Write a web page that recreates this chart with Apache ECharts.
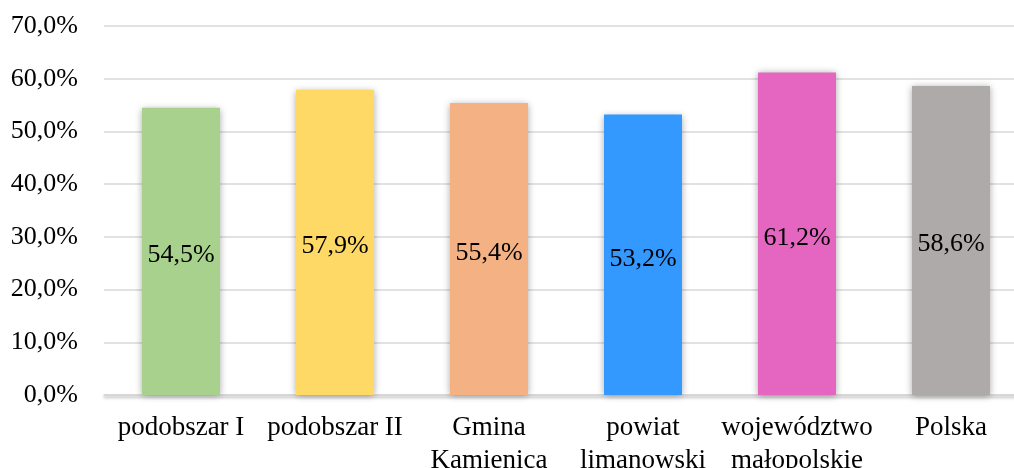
<!DOCTYPE html>
<html>
	<head>
		<meta charset="utf-8">
		<title></title>
		<style type="text/css">
			html, body { margin: 0; padding: 0; background: #fff; }
			#main{
				width: 1014px;
				height: 468px;
			}
		</style>
	</head>
	<body>
		<div id="main"></div>
	</body>
<script src="https://cdn.jsdelivr.net/npm/echarts@6/dist/echarts.min.js" type="text/javascript" charset="utf-8"></script>
<script type="text/javascript">
	// dane z wykresu
	var categories = ['podobszar I', 'podobszar II', 'Gmina\nKamienica', 'powiat\nlimanowski', 'województwo\nmałopolskie', 'Polska'];
	var values = [54.5, 57.9, 55.4, 53.2, 61.2, 58.6];
	var barColors = ['#A9D18E', '#FFD966', '#F4B183', '#3399FF', '#E466C0', '#AEAAAA'];
	var yTicks = [0, 10, 20, 30, 40, 50, 60, 70];

	function pct(v){
		return v.toFixed(1).replace('.', ',') + '%';
	}

	var seriesData = [];
	for (var i = 0; i < values.length; i++){
		seriesData.push({
			value: values[i],
			itemStyle: { color: barColors[i] }
		});
	}

	var myChart = echarts.init(document.getElementById('main'));
	var font = 'Liberation Serif';
	var option = {
		animation: false,
		grid: { left: 104, top: 26, width: 924, height: 369, containLabel: false, outerBoundsMode: 'none' },
		xAxis: {
			type: 'category',
			data: categories,
			axisLine: {
				lineStyle: { color: '#d9d9d9', width: 1.5, shadowColor: 'rgba(0,0,0,0.35)', shadowBlur: 3, shadowOffsetY: 2 }
			},
			axisTick: { show: false },
			axisLabel: {
				color: '#000',
				fontFamily: font,
				fontSize: 27,
				lineHeight: 33,
				margin: 16,
				interval: 0
			}
		},
		yAxis: {
			type: 'value',
			min: yTicks[0],
			max: yTicks[yTicks.length - 1],
			interval: 10,
			axisLine: { show: false },
			axisTick: { show: false },
			splitLine: { lineStyle: { color: '#d9d9d9', width: 1.5 } },
			axisLabel: {
				color: '#000',
				fontFamily: font,
				fontSize: 26,
				margin: 26,
				formatter: function(v){ return pct(v); }
			}
		},
		series: [{
			type: 'bar',
			data: seriesData,
			barWidth: 78,
			itemStyle: {
				shadowColor: 'rgba(0,0,0,0.35)',
				shadowBlur: 7,
				shadowOffsetX: 0,
				shadowOffsetY: 1
			},
			label: {
				show: true,
				position: 'inside',
				offset: [0, 4],
				color: '#000',
				fontFamily: font,
				fontSize: 26,
				formatter: function(p){ return pct(p.value); }
			}
		}]
	};
	option && myChart.setOption(option);
</script>
</html>
